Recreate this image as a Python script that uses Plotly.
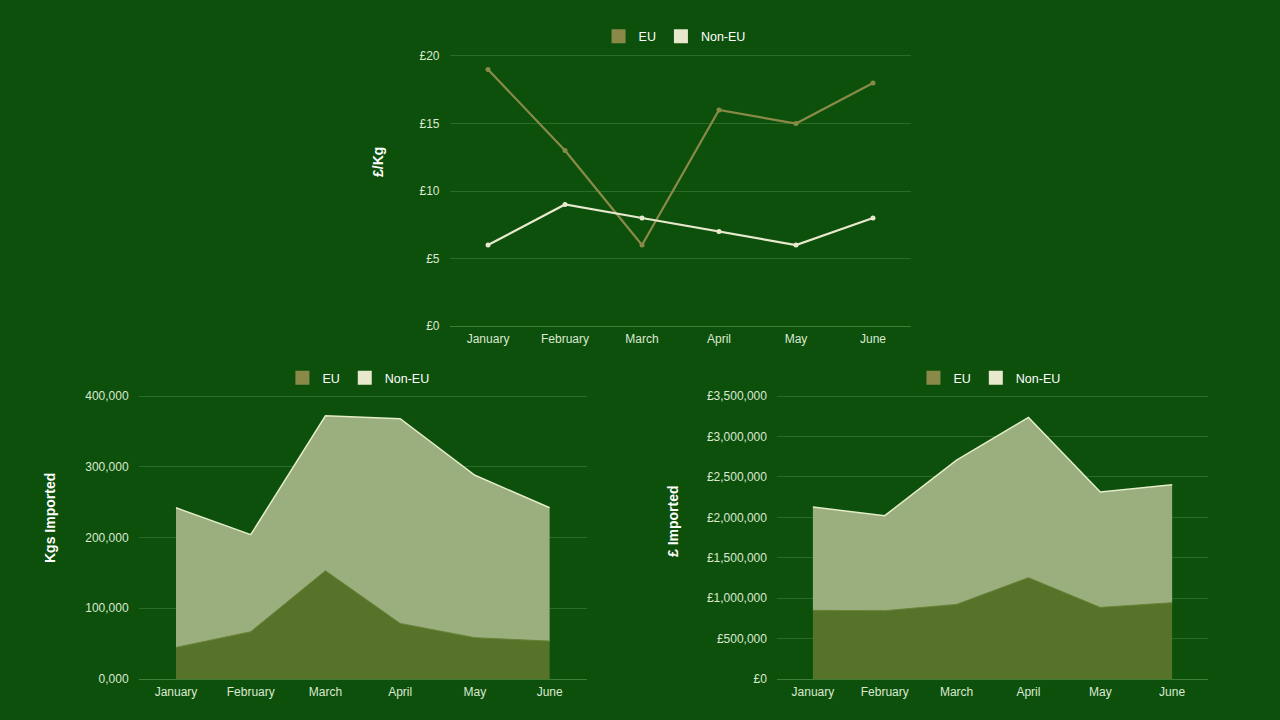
import plotly.graph_objects as go

months = ["January", "February", "March", "April", "May", "June"]

# £ per Kg
price_eu = [19, 13, 6, 16, 15, 18]
price_non_eu = [6, 9, 8, 7, 6, 8]
price_ticks = [0, 5, 10, 15, 20]
price_tick_labels = ["£0", "£5", "£10", "£15", "£20"]

# Kgs imported
kgs_eu = [44700, 66800, 153000, 78600, 58400, 53600]
kgs_non_eu = [197300, 137200, 219000, 289400, 229600, 188400]
kgs_ticks = [0, 100000, 200000, 300000, 400000]
kgs_tick_labels = ["0,000", "100,000", "200,000", "300,000", "400,000"]

# £ imported
gbp_eu = [849000, 845000, 923000, 1253000, 886000, 944000]
gbp_non_eu = [1278000, 1175000, 1785000, 1983000, 1426000, 1459000]

BG = "#0c500c"
GRID = "#2b6b28"
TICK = "#dce8d0"
EU_COL = "#8a8a48"
NON_COL = "#e8e8cc"
EU_FILL = "#57732a"
NON_FILL = "#9aae7e"
FONT = "Liberation Sans, Arial, sans-serif"

fig = go.Figure()

# top chart: price per kg
fig.add_trace(go.Scatter(x=months, y=price_eu, mode="lines+markers", name="EU",
                         line=dict(color=EU_COL, width=2.2), marker=dict(size=5, color=EU_COL),
                         showlegend=False, xaxis="x", yaxis="y"))
fig.add_trace(go.Scatter(x=months, y=price_non_eu, mode="lines+markers", name="Non-EU",
                         line=dict(color=NON_COL, width=2.2), marker=dict(size=5, color=NON_COL),
                         showlegend=False, xaxis="x", yaxis="y"))

# bottom left: kgs imported (stacked)
fig.add_trace(go.Scatter(x=months, y=kgs_eu, mode="lines", stackgroup="kgs", name="EU",
                         line=dict(color="#6a8436", width=1), fillcolor=EU_FILL,
                         showlegend=False, xaxis="x2", yaxis="y2"))
fig.add_trace(go.Scatter(x=months, y=kgs_non_eu, mode="lines", stackgroup="kgs", name="Non-EU",
                         line=dict(color="#e4ecc8", width=1.5), fillcolor=NON_FILL,
                         showlegend=False, xaxis="x2", yaxis="y2"))

# bottom right: £ imported (stacked)
fig.add_trace(go.Scatter(x=months, y=gbp_eu, mode="lines", stackgroup="gbp", name="EU",
                         line=dict(color="#6a8436", width=1), fillcolor=EU_FILL,
                         showlegend=False, xaxis="x3", yaxis="y3"))
fig.add_trace(go.Scatter(x=months, y=gbp_non_eu, mode="lines", stackgroup="gbp", name="Non-EU",
                         line=dict(color="#e4ecc8", width=1.5), fillcolor=NON_FILL,
                         showlegend=False, xaxis="x3", yaxis="y3"))

# legend entries with square swatches, one legend per chart
for leg, xa, ya in [("legend", "x", "y"), ("legend2", "x2", "y2"), ("legend3", "x3", "y3")]:
    for name, col in [("EU", EU_COL), ("Non-EU", NON_COL)]:
        fig.add_trace(go.Scatter(x=[None], y=[None], mode="markers", name=name,
                                 marker=dict(symbol="square", size=14, color=col),
                                 legend=leg, xaxis=xa, yaxis=ya))

axis_common = dict(gridcolor=GRID, tickfont=dict(color=TICK, size=12, family=FONT),
                   zeroline=False, automargin=False)
x_common = dict(axis_common, showgrid=False, showline=True, linecolor="#3f7d36",
                range=[-0.5, 5.5], ticks="", type="category", ticklabelstandoff=2)
y_common = dict(axis_common, ticklabelstandoff=9)

leg_common = dict(orientation="h", xanchor="center", yanchor="middle", traceorder="normal",
                  font=dict(size=12.5, color="#ffffff", family=FONT), bgcolor="rgba(0,0,0,0)")

fig.update_layout(
    width=1280, height=720,
    paper_bgcolor=BG, plot_bgcolor=BG,
    margin=dict(l=0, r=0, t=0, b=0),
    font=dict(family=FONT, color=TICK),
    xaxis=dict(x_common, domain=[0.3512, 0.7121], anchor="y"),
    yaxis=dict(y_common, domain=[0.5472, 0.926], anchor="x", range=[0, 20.2],
               tickvals=price_ticks, ticktext=price_tick_labels),
    xaxis2=dict(x_common, domain=[0.1083, 0.4586], anchor="y2"),
    yaxis2=dict(y_common, domain=[0.0569, 0.4539], anchor="x2", range=[0, 404000],
                tickvals=kgs_ticks, ticktext=kgs_tick_labels),
    xaxis3=dict(x_common, domain=[0.607, 0.9438], anchor="y3"),
    yaxis3=dict(y_common, domain=[0.0569, 0.4539], anchor="x3", range=[0, 3535000],
                dtick=500000, tickprefix="£", tickformat=","),
    legend=dict(leg_common, x=0.527, y=0.949),
    legend2=dict(leg_common, x=0.28, y=0.475),
    legend3=dict(leg_common, x=0.773, y=0.475),
)

# rotated axis titles
for text, x, y in [("£/Kg", 378, 162), ("Kgs Imported", 50, 518), ("£ Imported", 673, 521)]:
    fig.add_annotation(text="<b>%s</b>" % text, x=x / 1280, y=1 - y / 720,
                       xref="paper", yref="paper", textangle=-90, showarrow=False,
                       font=dict(size=14, color="#ffffff", family=FONT),
                       xanchor="center", yanchor="middle")

fig.write_html("out.html", config={"displayModeBar": False},
               post_script="document.body.style.margin='0';document.body.style.background='%s';" % BG)
